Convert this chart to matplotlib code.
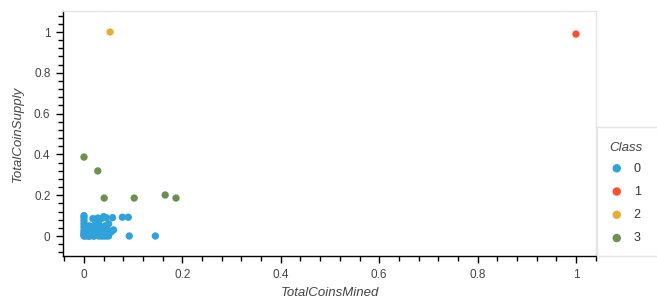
import matplotlib
matplotlib.use("Agg")
import matplotlib.pyplot as plt
from matplotlib.ticker import MultipleLocator, FixedLocator
from matplotlib.patches import Rectangle

plt.rcParams['font.family'] = ['Liberation Sans', 'DejaVu Sans']

classes = ["0", "1", "2", "3"]
colors = ["#30a2da", "#fc4f30", "#e5ae38", "#6d904f"]

class0_x = [0, 0, 0, 0, 0, 0, 0, 0, 0, 0, 0.002, 0.004, 0.006, 0.008, 0.01, 0.012, 0.015, 0.018,
            0.02, 0.02, 0.022, 0.025, 0.028, 0.03, 0.03, 0.033, 0.035, 0.037, 0.04, 0.04, 0.043,
            0.045, 0.048, 0.05, 0.05, 0.055, 0.058, 0.06, 0.078, 0.09, 0.092, 0.145, 0.035, 0.045,
            0.005, 0.01, 0.015, 0.025, 0.012, 0.02, 0.03, 0.04, 0.008, 0.05]
class0_y = [0.1, 0.09, 0.075, 0.06, 0.045, 0.03, 0.02, 0.01, 0.005, 0, 0, 0.01, 0.02, 0.005, 0,
            0.03, 0.01, 0.085, 0.05, 0, 0.02, 0.03, 0.088, 0.01, 0.06, 0.04, 0.0, 0.03, 0.095,
            0.02, 0.05, 0.0, 0.03, 0.06, 0.01, 0.02, 0.09, 0.03, 0.092, 0.092, 0.0, 0.0, 0.085,
            0.09, 0.04, 0.05, 0.04, 0.07, 0.0, 0.0, 0.0, 0.0, 0.0, 0.0]
class1_x = [1.0]
class1_y = [0.99]
class2_x = [0.053]
class2_y = [1.0]
class3_x = [0.0, 0.028, 0.041, 0.102, 0.165, 0.187]
class3_y = [0.387, 0.319, 0.186, 0.186, 0.201, 0.186]

xs = [class0_x, class1_x, class2_x, class3_x]
ys = [class0_y, class1_y, class2_y, class3_y]

W, H = 657, 301
fig = plt.figure(figsize=(6.57, 3.01), dpi=100)
ax = fig.add_axes([63/W, 1-256/H, (596-63)/W, (256-11)/H])

handles = []
for cx, cy, c, lab in zip(xs, ys, colors, classes):
    h = ax.scatter(cx, cy, s=28, color=c, edgecolors='none', label=lab)
    handles.append(h)

ax.set_xlim(-0.0427, 1.0407)
ax.set_ylim(-0.098, 1.103)

ax.xaxis.set_major_locator(FixedLocator([0, 0.2, 0.4, 0.6, 0.8, 1.0]))
ax.yaxis.set_major_locator(FixedLocator([0, 0.2, 0.4, 0.6, 0.8, 1.0]))
ax.xaxis.set_minor_locator(MultipleLocator(0.04))
ax.yaxis.set_minor_locator(MultipleLocator(0.04))
ax.set_xticklabels(["0", "0.2", "0.4", "0.6", "0.8", "1"])
ax.set_yticklabels(["0", "0.2", "0.4", "0.6", "0.8", "1"])

ax.tick_params(axis='both', which='major', length=5, width=1, colors='black',
               labelcolor='#444444', labelsize=8.5, pad=4)
ax.tick_params(axis='both', which='minor', length=3.5, width=1, colors='black')

for side in ['top', 'right']:
    ax.spines[side].set_color('#e5e5e5')
    ax.spines[side].set_linewidth(1)
for side in ['left', 'bottom']:
    ax.spines[side].set_color('black')
    ax.spines[side].set_linewidth(1)

ax.set_xlabel("TotalCoinsMined", fontstyle='italic', fontsize=9.5, color='#444444', labelpad=5)
ax.set_ylabel("TotalCoinSupply", fontstyle='italic', fontsize=9.5, color='#444444', labelpad=7)

# legend box border (outside plot, right side)
fig.patches.append(Rectangle((597/W, 1-256/H), (W+5-597)/W, (256-127)/H,
                             transform=fig.transFigure, facecolor='white',
                             edgecolor='#e5e5e5', linewidth=1, zorder=0))

leg = fig.legend(handles=handles, labels=classes, title="Class",
                 loc='upper left', bbox_to_anchor=(603/W, 1-136/H),
                 frameon=False, fontsize=9, title_fontsize=9.5,
                 handletextpad=0.75, labelspacing=0.9, markerscale=1.15,
                 borderpad=0.0, handlelength=1.2)
leg._legend_box.align = "left"
leg._legend_box.sep = 6
leg.get_title().set_fontstyle('italic')
leg.get_title().set_color('#444444')
for t in leg.get_texts():
    t.set_color('#333333')

fig.savefig("out.png", dpi=100)
